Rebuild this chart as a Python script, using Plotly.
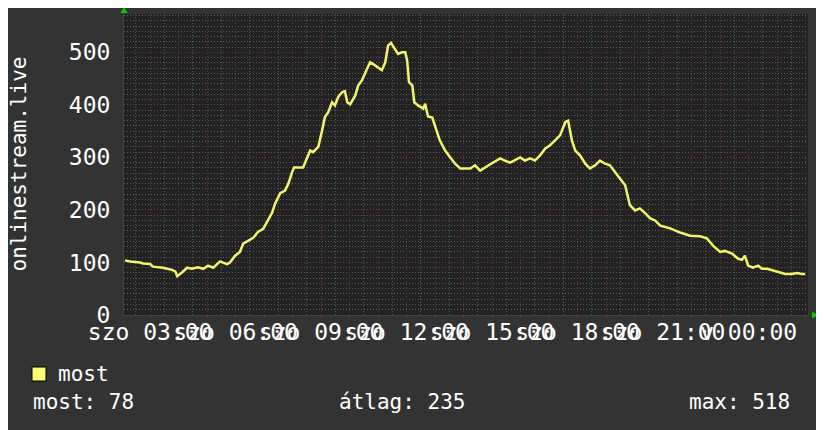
import plotly.graph_objects as go
import pandas as pd

# readings (Saturday night into Sunday morning)
times = [
    "2024-03-16 02:07", "2024-03-16 02:18", "2024-03-16 02:39", "2024-03-16 02:45",
    "2024-03-16 03:00", "2024-03-16 03:06", "2024-03-16 03:27", "2024-03-16 03:46",
    "2024-03-16 03:53", "2024-03-16 03:57", "2024-03-16 04:07", "2024-03-16 04:18",
    "2024-03-16 04:28", "2024-03-16 04:41", "2024-03-16 04:52", "2024-03-16 05:02",
    "2024-03-16 05:13", "2024-03-16 05:27", "2024-03-16 05:42", "2024-03-16 05:48",
    "2024-03-16 05:59", "2024-03-16 06:09", "2024-03-16 06:16", "2024-03-16 06:26",
    "2024-03-16 06:37", "2024-03-16 06:47", "2024-03-16 06:58", "2024-03-16 07:08",
    "2024-03-16 07:17", "2024-03-16 07:23", "2024-03-16 07:34", "2024-03-16 07:44",
    "2024-03-16 07:51", "2024-03-16 07:59", "2024-03-16 08:03", "2024-03-16 08:22",
    "2024-03-16 08:30", "2024-03-16 08:37", "2024-03-16 08:43", "2024-03-16 08:54",
    "2024-03-16 09:02", "2024-03-16 09:08", "2024-03-16 09:15", "2024-03-16 09:23",
    "2024-03-16 09:29", "2024-03-16 09:36", "2024-03-16 09:44", "2024-03-16 09:50",
    "2024-03-16 09:55", "2024-03-16 10:01", "2024-03-16 10:12", "2024-03-16 10:18",
    "2024-03-16 10:26", "2024-03-16 10:33", "2024-03-16 10:43", "2024-03-16 10:49",
    "2024-03-16 10:58", "2024-03-16 11:08", "2024-03-16 11:15", "2024-03-16 11:21",
    "2024-03-16 11:27", "2024-03-16 11:36", "2024-03-16 11:42", "2024-03-16 11:50",
    "2024-03-16 11:57", "2024-03-16 12:01", "2024-03-16 12:05", "2024-03-16 12:12",
    "2024-03-16 12:16", "2024-03-16 12:24", "2024-03-16 12:35", "2024-03-16 12:39",
    "2024-03-16 12:45", "2024-03-16 12:54", "2024-03-16 13:00", "2024-03-16 13:10",
    "2024-03-16 13:21", "2024-03-16 13:32", "2024-03-16 13:42", "2024-03-16 13:53",
    "2024-03-16 14:14", "2024-03-16 14:24", "2024-03-16 14:35", "2024-03-16 14:56",
    "2024-03-16 15:17", "2024-03-16 15:27", "2024-03-16 15:38", "2024-03-16 15:59",
    "2024-03-16 16:09", "2024-03-16 16:20", "2024-03-16 16:30", "2024-03-16 16:41",
    "2024-03-16 16:52", "2024-03-16 17:02", "2024-03-16 17:13", "2024-03-16 17:23",
    "2024-03-16 17:34", "2024-03-16 17:40", "2024-03-16 17:48", "2024-03-16 17:55",
    "2024-03-16 18:05", "2024-03-16 18:16", "2024-03-16 18:26", "2024-03-16 18:37",
    "2024-03-16 18:47", "2024-03-16 18:58", "2024-03-16 19:08", "2024-03-16 19:19",
    "2024-03-16 19:29", "2024-03-16 19:40", "2024-03-16 19:50", "2024-03-16 20:01",
    "2024-03-16 20:11", "2024-03-16 20:22", "2024-03-16 20:33", "2024-03-16 20:43",
    "2024-03-16 20:54", "2024-03-16 21:15", "2024-03-16 21:36", "2024-03-16 21:57",
    "2024-03-16 22:18", "2024-03-16 22:32", "2024-03-16 22:45", "2024-03-16 23:00",
    "2024-03-16 23:10", "2024-03-16 23:25", "2024-03-16 23:38", "2024-03-16 23:46",
    "2024-03-16 23:52", "2024-03-16 23:59", "2024-03-17 00:09", "2024-03-17 00:20",
    "2024-03-17 00:28", "2024-03-17 00:39", "2024-03-17 00:49", "2024-03-17 01:06",
    "2024-03-17 01:17", "2024-03-17 01:31", "2024-03-17 01:42", "2024-03-17 01:52",
    "2024-03-17 01:59",
]
listeners = [
    104, 102, 100, 98,
    97, 92, 90, 86,
    83, 74, 81, 90,
    88, 91, 88, 94,
    90, 102, 97, 100,
    113, 120, 136, 142,
    147, 158, 164, 180,
    195, 212, 232, 237,
    250, 272, 281, 281,
    297, 313, 310, 320,
    351, 377, 386, 405,
    399, 415, 424, 426,
    405, 401, 418, 437,
    447, 462, 481, 478,
    473, 466, 481, 513,
    518, 504, 497, 500,
    500, 485, 443, 437,
    405, 399, 393, 402,
    378, 376, 358, 332,
    313, 300, 288, 279,
    279, 285, 275, 287,
    298, 294, 290, 300,
    294, 298, 294, 304,
    317, 323, 332, 342,
    367, 370, 332, 313,
    304, 288, 279, 285,
    294, 288, 285, 271,
    260, 247, 209, 199,
    203, 194, 184, 180,
    170, 165, 157, 151,
    150, 146, 132, 120,
    122, 117, 107, 105,
    113, 94, 90, 94,
    88, 88, 85, 81,
    78, 78, 80, 78,
    78,
]

# every hour gets a grid line, every third hour a label
hour_ticks = pd.date_range("2024-03-16 03:00", "2024-03-17 02:00", freq="1h")
label_text = {
    "03:00": "szo 03:00", "06:00": "szo 06:00", "09:00": "szo 09:00",
    "12:00": "szo 12:00", "15:00": "szo 15:00", "18:00": "szo 18:00",
    "21:00": "szo 21:00", "00:00": "v 00:00",
}
hour_text = [label_text.get(t.strftime("%H:%M"), "") for t in hour_ticks]

y_ticks = [0, 100, 200, 300, 400, 500]

legend_name = "most"
stat_labels = ["most", "átlag", "max"]
stat_values = [78, 235, 518]

FONT = "DejaVu Sans Mono"
BG = "#333333"
CANVAS = "#222222"
MAJOR = "#7a3034"
MINOR = "#5a5a5a"

fig = go.Figure()

fig.add_trace(go.Scatter(
    x=pd.to_datetime(times),
    y=listeners,
    mode="lines",
    line=dict(color="#f4f46a", width=2.5),
    showlegend=False,
))

fig.update_xaxes(
    type="date",
    range=["2024-03-16 02:05", "2024-03-17 02:05"],
    tickmode="array",
    tickvals=hour_ticks,
    ticktext=hour_text,
    tickangle=0,
    ticks="outside",
    ticklen=2,
    tickcolor=MAJOR,
    ticklabelstandoff=-6,
    tickfont=dict(family=FONT, size=23, color="#ffffff"),
    showgrid=True,
    gridcolor=MAJOR,
    griddash="1px,2px",
    gridwidth=1,
    minor=dict(dtick=30 * 60 * 1000, showgrid=True, gridcolor=MINOR,
               griddash="1px,2px", gridwidth=1),
    showline=True,
    linecolor="#444444",
    linewidth=1,
    zeroline=False,
    automargin=False,
)

fig.update_yaxes(
    range=[0, 573],
    tickmode="array",
    tickvals=y_ticks,
    ticks="",
    ticklabelstandoff=8,
    tickfont=dict(family=FONT, size=23, color="#ffffff"),
    showgrid=True,
    gridcolor=MAJOR,
    griddash="1px,2px",
    gridwidth=1,
    minor=dict(dtick=10, showgrid=True, gridcolor=MINOR,
               griddash="1px,2px", gridwidth=1),
    showline=True,
    linecolor="#444444",
    linewidth=1,
    zeroline=False,
    automargin=False,
)

# plot box on the page: x 124..808 px, y 14..315 px
# (the page puts the figure 8px in from the top-left corner)
W_PLOT, H_PLOT = 684, 301


def px_x(px):
    return (px - 124) / W_PLOT


def px_y(py):
    return (315 - py) / H_PLOT


annotations = [
    dict(text="onlinestream.live", textangle=-90, x=px_x(18), y=0.5,
         xanchor="center", yanchor="middle", size=21),
    dict(text=legend_name, x=px_x(56), y=px_y(374), xanchor="left", yanchor="middle"),
    dict(text=f"{stat_labels[0]}: {stat_values[0]}", x=px_x(31), y=px_y(402),
         xanchor="left", yanchor="middle"),
    dict(text=f"{stat_labels[1]}: {stat_values[1]}", x=px_x(402), y=px_y(402),
         xanchor="center", yanchor="middle"),
    dict(text=f"{stat_labels[2]}: {stat_values[2]}", x=px_x(792), y=px_y(402),
         xanchor="right", yanchor="middle"),
]
for a in annotations:
    size = a.pop("size", 21)
    a.update(xref="paper", yref="paper", showarrow=False,
             font=dict(family=FONT, size=size, color="#ffffff"))

shapes = [
    # legend swatch
    dict(type="rect", x0=px_x(32), x1=px_x(46), y0=px_y(381), y1=px_y(367),
         fillcolor="#ffff77", line=dict(color="#000000", width=1)),
    # green axis arrows
    dict(type="path",
         path=f"M {px_x(120.5)},{px_y(13)} L {px_x(124)},{px_y(7)} L {px_x(127.5)},{px_y(13)} Z",
         fillcolor="#00cc00", line=dict(width=0)),
    dict(type="path",
         path=f"M {px_x(812)},{px_y(311.5)} L {px_x(818)},{px_y(315)} L {px_x(812)},{px_y(318.5)} Z",
         fillcolor="#00cc00", line=dict(width=0)),
]
for s in shapes:
    s.update(xref="paper", yref="paper", layer="above")

fig.update_layout(
    width=816,
    height=422,
    margin=dict(l=116, r=16, t=6, b=115),
    paper_bgcolor=BG,
    plot_bgcolor=CANVAS,
    font=dict(family=FONT, color="#ffffff"),
    annotations=annotations,
    shapes=shapes,
    showlegend=False,
)

fig.write_html("out.html")
